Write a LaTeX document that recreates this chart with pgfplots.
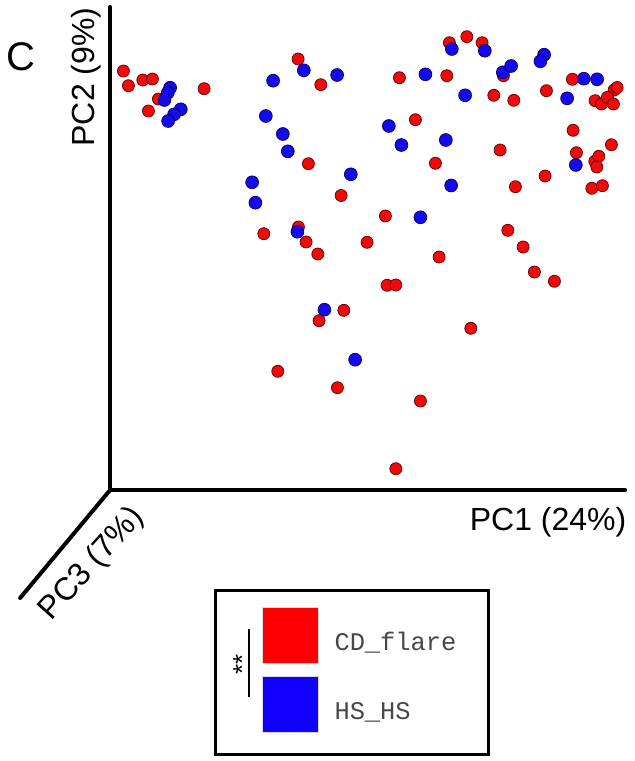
\documentclass[border=0pt]{standalone}
\usepackage{pgfplots}
\pgfplotsset{compat=1.18}
\usepackage{fontspec}
\setmainfont{Liberation Sans}
\newfontfamily\mono{Liberation Mono}
\definecolor{pred}{RGB}{240,10,10}
\definecolor{pblue}{RGB}{20,10,235}
\definecolor{legred}{RGB}{255,0,0}
\definecolor{legblue}{RGB}{16,0,255}
\begin{document}
\begin{tikzpicture}
\begin{axis}[
  width=317pt, height=380.5pt, scale only axis,
  xmin=0, xmax=634, ymin=0, ymax=761, y dir=reverse,
  hide axis, clip=false,
]
\path (axis cs:0,0) rectangle (axis cs:634,761);
% axes
\draw[line width=2pt, line cap=round] (axis cs:110,7) -- (axis cs:110,490) -- (axis cs:625,490);
\draw[line width=2pt, line cap=round] (axis cs:110,490) -- (axis cs:20,598);
% labels
\node[font=\fontsize{20}{22}\selectfont] at (axis cs:21,57) {C};
\node[font=\fontsize{16}{18}\selectfont, rotate=90] at (axis cs:86,77) {PC2 (9\%)};
\node[font=\fontsize{16}{18}\selectfont] at (axis cs:548,522) {PC1 (24\%)};
\node[font=\fontsize{16}{18}\selectfont, rotate=48] at (axis cs:92,564) {PC3 (7\%)};
% points
\addplot[only marks, mark=*, mark size=3pt, mark options={fill=pred, draw=pred!45!black, line width=0.4pt}] coordinates {
(123.3,71) (128.3,85.7) (142.7,80) (152.3,79) (158.3,99) (148.3,111) (204,88.7)
(298,59) (320.7,84.7) (308.3,163.7) (399.3,77.7) (415.3,119.7) (341,195.5)
(446.7,75.7) (449.3,42.7) (466.7,36.7) (482,42.7) (493.7,95.3) (513.7,100.3)
(503.3,75.7) (546.3,90.7) (572.3,79.3) (614,90) (617,87.5)
(595,100.7) (601.3,104) (607.3,97.3) (613.3,104) (573,130.3) (611.3,144.7)
(576.3,152.7) (594.7,161.3) (598.7,156.3) (596.7,167) (545,176) (591.7,188.3)
(602.3,185.7) (515.3,186.7) (500,150) (435.3,163.3) (385.3,216) (263.7,233.7)
(298.3,227) (306,242) (317.7,254) (367,242.3) (439,257) (387,285.3) (395.7,285)
(343.7,310.3) (319,320.7) (277.7,371.3) (337.3,387.7) (420.3,401) (395.7,468.7)
(507.7,230.3) (523,247) (534.3,272) (554.3,281.3) (470.7,328.3)
};
\addplot[only marks, mark=*, mark size=3.2pt, mark options={fill=pblue, draw=pblue!45!black, line width=0.4pt}] coordinates {
(170,87.7) (167.7,92.7) (164.3,100) (180.7,109.3) (174,114.3) (168,121)
(303.7,70.3) (273,80.7) (265.7,116) (282.7,134) (287.7,151.3) (252,182.3)
(255.3,202.7) (337,75) (425.3,74.3) (388.7,126) (401.3,145) (350.7,174.3)
(451.7,49) (484.7,50.7) (465,95.3) (502.7,72.3) (511,66) (544,54.7) (540.3,61.3)
(567,98.3) (583.7,78.7) (597,79.3) (575.7,165) (451,185.5) (445.7,140)
(420.3,217.3) (297.3,231.7) (324.3,309.7) (355,359.7)
};
% legend
\draw[line width=1.5pt] (axis cs:215,590) rectangle (axis cs:488,754);
\draw[black!15, fill=legred, line width=0.5pt] (axis cs:262,607) rectangle (axis cs:318,663);
\draw[black!15, fill=legblue, line width=0.5pt] (axis cs:262,676) rectangle (axis cs:318,732);
\node[anchor=west, font=\mono\fontsize{12.7}{14}\selectfont, text=black!72, inner sep=0pt] at (axis cs:334,643) {CD\_flare};
\node[anchor=west, font=\mono\fontsize{12.7}{14}\selectfont, text=black!72, inner sep=0pt] at (axis cs:334,712) {HS\_HS};
\draw[line width=1pt] (axis cs:249,629) -- (axis cs:249,697);
\node[rotate=90, font=\fontsize{13}{14}\selectfont, inner sep=0pt] at (axis cs:242,664) {**};
\end{axis}
\end{tikzpicture}
\end{document}
